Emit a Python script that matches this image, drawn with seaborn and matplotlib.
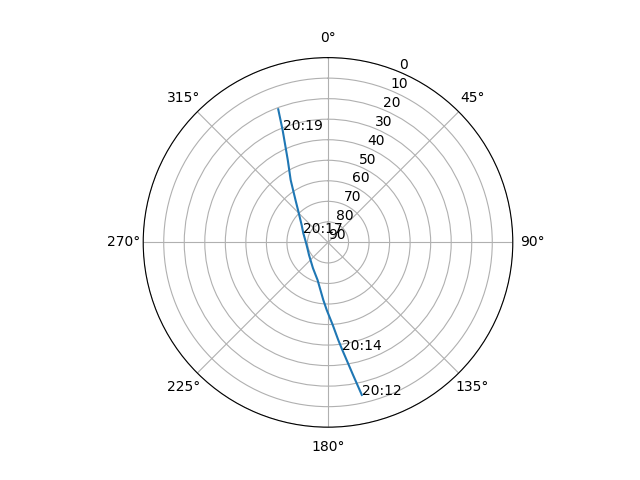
import numpy as np
import pandas as pd
import matplotlib
matplotlib.use("Agg")
import matplotlib.pyplot as plt
import seaborn as sns

# Satellite pass track (azimuth in degrees, elevation in degrees), in time order
azimuth = [167.5, 169.3, 172.4, 174.0, 176.7, 181.1, 184.7, 195.5, 210.4, 236.4,
           249.4, 271.0, 290.2, 303.5, 317.2, 322.5, 329.1, 334.0, 338.0, 339.5]
elevation = [13.9, 24.3, 37.1, 42.2, 49.7, 57.1, 61.9, 71.0, 75.5, 78.9,
             79.5, 79.2, 77.2, 74.6, 68.5, 64.0, 54.6, 45.3, 31.0, 20.8]

# Time labels and the track points they are attached to
label_times = ["20:12", "20:14", "20:17", "20:19"]
label_az = [167.5, 172.4, 290.2, 338.0]
label_el = [13.9, 37.1, 77.2, 31.0]

radial_ticks = [0, 10, 20, 30, 40, 50, 60, 70, 80, 90]

df = pd.DataFrame({"theta": np.deg2rad(azimuth), "el": elevation})

fig = plt.figure(figsize=(6.4, 4.8), dpi=100)
ax = fig.add_subplot(111, projection="polar")
ax.set_theta_zero_location("N")
ax.set_theta_direction(-1)

sns.lineplot(data=df, x="theta", y="el", sort=False, ax=ax, color="#1f77b4", linewidth=1.5)

for t, a, e in zip(label_times, label_az, label_el):
    ax.text(np.deg2rad(a), e, t, fontsize=10)

ax.set_ylim(90, 0)
ax.set_yticks(radial_ticks)
ax.set_xlabel("")
ax.set_ylabel("")
ax.grid(True)

fig.savefig("out.png", dpi=100)
